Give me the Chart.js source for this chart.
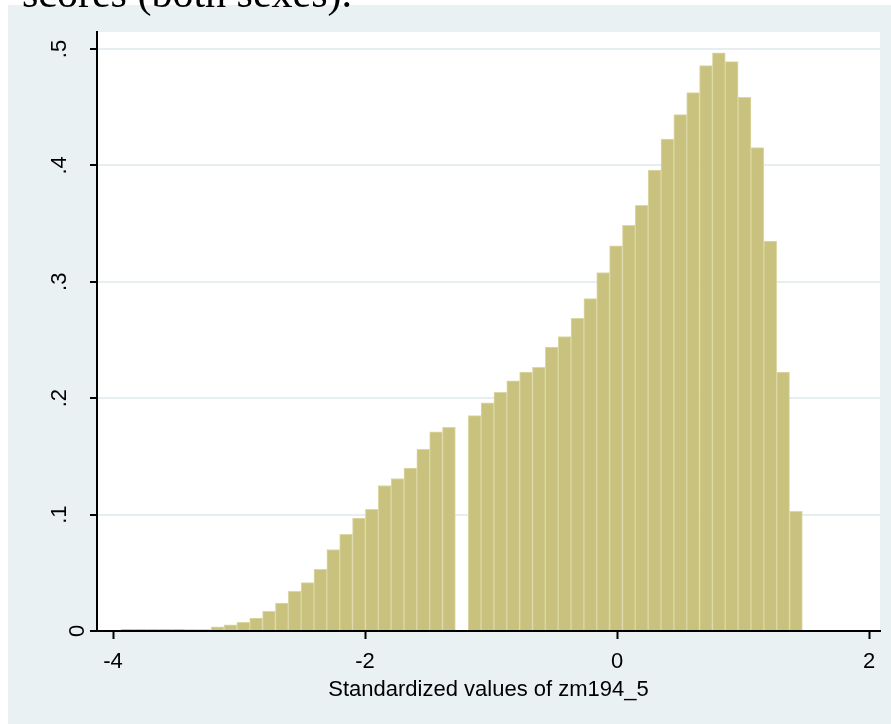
<!DOCTYPE html>
<html>
<head>
<meta charset="utf-8">
<script src="https://cdn.jsdelivr.net/npm/chart.js@4.4.1/dist/chart.umd.min.js"></script>
<style>
  html, body { margin: 0; padding: 0; background: #ffffff; overflow: hidden; }
  #wrap { position: relative; width: 891px; height: 724px; }
  #panel { position: absolute; left: 8px; top: 5px; right: 0; bottom: 0; background: #eaf1f3; }
  #cap { position: absolute; left: 22px; top: -28px; font-family: "Liberation Serif", "Times New Roman", serif; font-size: 42px; line-height: 42px; color: #000; white-space: nowrap; z-index: 2; }
  canvas { position: absolute; left: 0; top: 0; z-index: 1; }
</style>
</head>
<body>
<div id="wrap">
  <div id="panel"></div>
  <div id="cap">scores (both sexes).</div>
  <canvas id="c" width="891" height="724"></canvas>
</div>
<script>
// ---- data ----
const binStart = -3.935;   // left edge of first bin
const binWidth = 0.102;    // bin width
const density = [
  0.0015, 0.0015, 0.0015, 0.0015, 0.0015, 0.0012, 0.0012, 0.0035, 0.0054, 0.0075,
  0.011, 0.017, 0.024, 0.034, 0.0415, 0.053, 0.070, 0.083, 0.097, 0.1045,
  0.125, 0.131, 0.140, 0.156, 0.171, 0.175, 0, 0.185, 0.196, 0.205,
  0.215, 0.2225, 0.2265, 0.244, 0.253, 0.2686, 0.2855, 0.308, 0.331, 0.3485,
  0.3657, 0.396, 0.4227, 0.4436, 0.4625, 0.4857, 0.4968, 0.4891, 0.4585, 0.4152,
  0.335, 0.2225, 0.1028
];
const xTickValues = [-4, -2, 0, 2];
const yTickValues = [0, 0.1, 0.2, 0.3, 0.4, 0.5];
const yTickLabels = ['0', '.1', '.2', '.3', '.4', '.5'];
const xTitle = 'Standardized values of zm194_5';

// ---- build chart ----
const points = density.map((d, i) => ({ x: binStart + binWidth * (i + 0.5), y: d }));

const plotBg = {
  id: 'plotBg',
  beforeDraw(chart) {
    const a = chart.chartArea, ctx = chart.ctx;
    ctx.save();
    ctx.fillStyle = '#ffffff';
    ctx.fillRect(a.left, a.top, a.right - a.left, a.bottom - a.top);
    ctx.restore();
  }
};

const fam = '"Liberation Sans", Arial, sans-serif';
const tickFont = { family: fam, size: 22 };

new Chart(document.getElementById('c'), {
  type: 'bar',
  data: {
    datasets: [{
      data: points,
      backgroundColor: '#c9c27e',
      borderColor: '#dcd8a6',
      borderWidth: { top: 1, left: 1, right: 1, bottom: 0 },
      borderSkipped: false,
      barPercentage: 1,
      categoryPercentage: 1
    }]
  },
  options: {
    responsive: false,
    animation: false,
    devicePixelRatio: 1,
    layout: { padding: { top: 32, right: 11, left: 0, bottom: 0 } },
    plugins: { legend: { display: false }, tooltip: { enabled: false } },
    scales: {
      x: {
        type: 'linear',
        offset: false,
        min: -4.127,
        max: 2.087,
        afterFit(s) { s.height = 93; s.paddingLeft = 0; s.paddingRight = 0; },
        afterBuildTicks(s) { s.ticks = xTickValues.map(v => ({ value: v })); },
        ticks: {
          font: tickFont, color: '#000', padding: 10, maxRotation: 0, minRotation: 0
        },
        grid: { offset: false, drawOnChartArea: false, drawTicks: true, tickLength: 8, tickColor: '#000', tickWidth: 2 },
        border: { display: true, color: '#000', width: 2 },
        title: { display: true, text: xTitle, font: tickFont, color: '#000', padding: { top: 0, bottom: 21 } }
      },
      y: {
        type: 'linear',
        min: 0,
        max: 0.5146,
        afterFit(s) { s.width = 97; s.paddingTop = 0; s.paddingBottom = 0; },
        afterBuildTicks(s) { s.ticks = yTickValues.map(v => ({ value: v })); },
        ticks: {
          color: '#000', padding: 21, minRotation: 90, maxRotation: 90,
          crossAlign: 'center',
          font: (ctx) => (ctx.tick && ctx.tick.value === 0)
            ? { family: fam, size: 22, lineHeight: 36 / 22 }
            : { family: fam, size: 22 },
          callback: (v) => {
            const i = yTickValues.findIndex(t => Math.abs(t - v) < 1e-9);
            if (i < 0) return '';
            return v === 0 ? ['', yTickLabels[i]] : yTickLabels[i];
          }
        },
        grid: {
          offset: false,
          drawOnChartArea: true,
          color: (ctx) => (ctx.tick && ctx.tick.value === 0) ? 'rgba(0,0,0,0)' : '#e6eef1',
          lineWidth: 2,
          drawTicks: true, tickLength: 7, tickColor: '#000', tickWidth: 2
        },
        border: { display: true, color: '#000', width: 2 }
      }
    }
  },
  plugins: [plotBg]
});
</script>
</body>
</html>
